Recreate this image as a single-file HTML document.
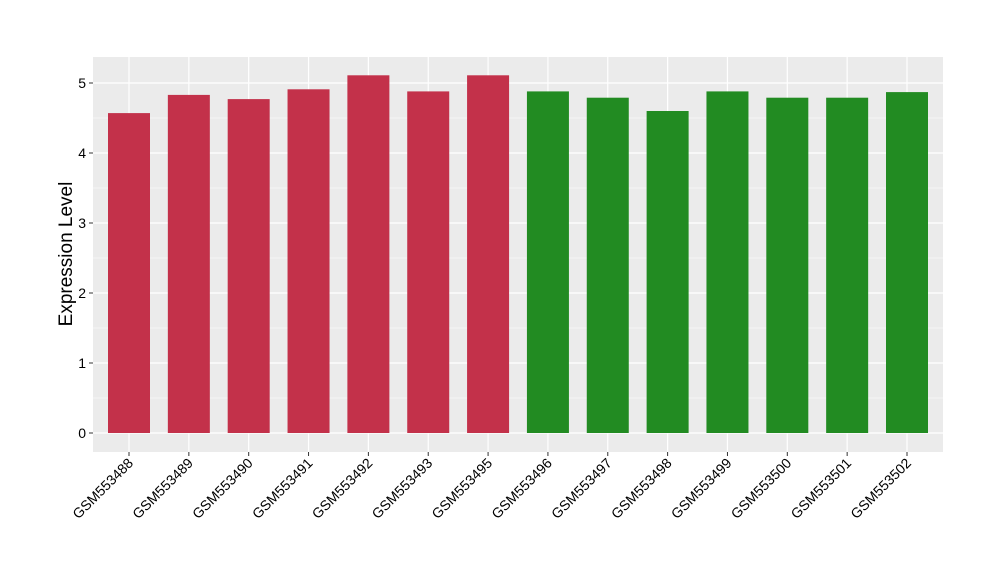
<!DOCTYPE html>
<html><head><meta charset="utf-8"><style>
body{margin:0;background:#fff;font-family:"Liberation Sans",sans-serif}
</style></head><body>
<svg id="chart" width="1000" height="580" xmlns="http://www.w3.org/2000/svg" font-family="Liberation Sans, sans-serif">
<rect x="93" y="57" width="850" height="395" fill="#ebebeb"/>
<g id="grid"></g><g id="bars"></g><g id="axes"></g>
<text transform="translate(72,254) rotate(-90)" text-anchor="middle" font-size="19" fill="#000">Expression Level</text>
</svg>
<script>
const categories=["GSM553488","GSM553489","GSM553490","GSM553491","GSM553492","GSM553493","GSM553495","GSM553496","GSM553497","GSM553498","GSM553499","GSM553500","GSM553501","GSM553502"];
const values=[4.57,4.83,4.77,4.91,5.11,4.88,5.11,4.88,4.79,4.60,4.88,4.79,4.79,4.87];
const groups=["a","a","a","a","a","a","a","b","b","b","b","b","b","b"];
const yTicks=[0,1,2,3,4,5];
const colors={a:"#c3314a",b:"#228b22"};
const NS="http://www.w3.org/2000/svg";
const xS=i=>129+i*(907-129)/(categories.length-1);
const yS=v=>433-v*70;
function mk(tag,attrs,parent){const e=document.createElementNS(NS,tag);for(const k in attrs)e.setAttribute(k,attrs[k]);document.getElementById(parent).appendChild(e);return e;}
for(let v=0.5;v<5.5;v+=1){const l=mk("line",{x1:93,x2:943,y1:yS(v),y2:yS(v),stroke:"#fff","stroke-width":0.6},"grid");

}
yTicks.forEach(t=>{const l=mk("line",{x1:93,x2:943,y1:yS(t),y2:yS(t),stroke:"#fff","stroke-width":1.2},"grid");


const tk=mk("line",{x1:89,x2:93,y1:yS(t),y2:yS(t),stroke:"#333"},"axes");


const tx=mk("text",{x:86,y:yS(t)+5,"text-anchor":"end","font-size":14,fill:"#000"},"axes");tx.textContent=t;

});
categories.forEach((c,i)=>{const x=xS(i);
const g=mk("line",{x1:x,x2:x,y1:57,y2:452,stroke:"#fff","stroke-width":1.2},"grid");


const b=mk("rect",{x:x-21,y:yS(values[i]),width:42,height:yS(0)-yS(values[i]),fill:colors[groups[i]]},"bars");


const tk=mk("line",{x1:x,x2:x,y1:452,y2:456,stroke:"#333"},"axes");


const tx=mk("text",{transform:`translate(${x+5},${464}) rotate(-45)`,"text-anchor":"end","font-size":14,fill:"#000"},"axes");tx.textContent=c;

});
</script>
</body></html>
